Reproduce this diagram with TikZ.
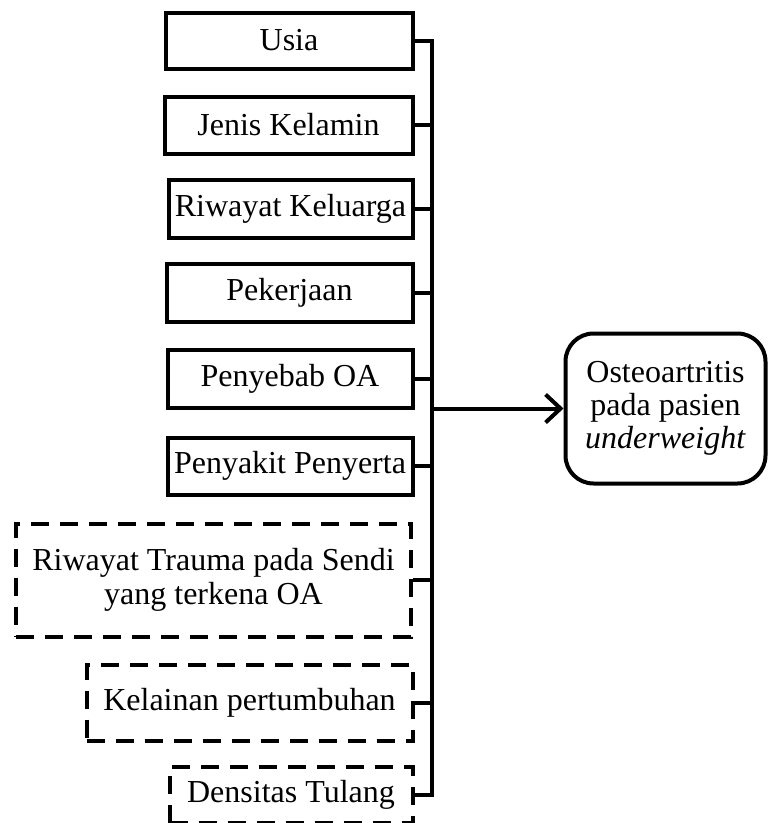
\documentclass[tikz,border=0pt]{standalone}
\usepackage{fontspec}
\setmainfont{Liberation Serif}
\usetikzlibrary{arrows.meta}

\begin{document}
\begin{tikzpicture}[x=1pt,y=-1pt,
  factor/.style={draw,line width=4pt,inner sep=0pt,align=center,font=\fontsize{32.0}{34.0}\selectfont},
  extra/.style={factor,dash pattern=on 18pt off 11pt},
  link/.style={line width=4pt}]
\path[use as bounding box] (0,0) rectangle (769.0,823.0);
\node[factor,minimum width=247pt,minimum height=56pt] (usia) at (289,40.5) {Usia};
\node[factor,minimum width=248pt,minimum height=57pt] (jenis) at (288.5,125) {Jenis Kelamin};
\node[factor,minimum width=244pt,minimum height=58pt] (keluarga) at (290.5,209) {Riwayat Keluarga};
\node[factor,minimum width=246pt,minimum height=58pt] (pekerjaan) at (289.5,292.5) {Pekerjaan};
\node[factor,minimum width=245pt,minimum height=58pt] (penyebab) at (290,379) {Penyebab OA};
\node[factor,minimum width=245pt,minimum height=57pt] (penyakit) at (290,466) {Penyakit Penyerta};
\node[extra,minimum width=395pt,minimum height=113pt] (trauma) at (213.5,580) {Riwayat Trauma pada Sendi\\yang terkena OA};
\node[extra,minimum width=326pt,minimum height=76pt] (kelainan) at (249.5,702.5) {Kelainan pertumbuhan};
\node[extra,minimum width=243pt,minimum height=56pt] (densitas) at (291,795) {Densitas Tulang};
\node[draw,line width=4pt,rounded corners=28pt,minimum width=200pt,minimum height=150pt,inner sep=0pt,align=center,
  font=\fontsize{32.0}{33.0}\selectfont] (oa) at (665.5,408.5) {Osteoartritis\\pada pasien\\\textit{underweight}};
\coordinate (bustop) at (432,40.5);
\coordinate (busbot) at (432,795);
\coordinate (busmid) at (432,408.5);
\draw[link] (usia.east) -- (bustop) -- (busbot) -- (densitas.east);
\draw[link] (jenis.east) -- (jenis.east -| bustop);
\draw[link] (keluarga.east) -- (keluarga.east -| bustop);
\draw[link] (pekerjaan.east) -- (pekerjaan.east -| bustop);
\draw[link] (penyebab.east) -- (penyebab.east -| bustop);
\draw[link] (penyakit.east) -- (penyakit.east -| bustop);
\draw[link] (trauma.east) -- (trauma.east -| bustop);
\draw[link] (kelainan.east) -- (kelainan.east -| bustop);
\draw[link,-{Straight Barb[length=15pt,width=28pt,line width=4pt]}] (busmid) -- (oa.west);
\end{tikzpicture}
\end{document}
